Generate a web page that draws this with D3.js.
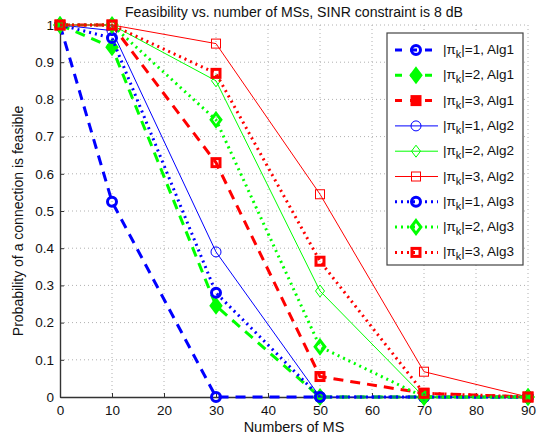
<!DOCTYPE html>
<html>
<head>
<meta charset="utf-8">
<script src="https://cdn.jsdelivr.net/npm/d3@7"></script>
<style>
  body { margin: 0; background: #fff; }
  text { font-family: "Liberation Sans", Arial, sans-serif; }
</style>
</head>
<body>
<svg id="chart" width="545" height="436"></svg>
<script>
// x values (number of MS)
const msCount = [0, 10, 30, 50, 70, 90];

// feasibility values
const pi1Alg1 = [1, 0.525, 0, 0, 0, 0];
const pi2Alg1 = [1, 0.94, 0.245, 0, 0, 0];
const pi3Alg1 = [1, 1, 0.63, 0.055, 0.01, 0];
const pi1Alg2 = [1, 0.985, 0.39, 0, 0, 0];
const pi2Alg2 = [1, 1, 0.85, 0.285, 0, 0];
const pi3Alg2 = [1, 1, 0.95, 0.545, 0.068, 0];
const pi1Alg3 = [1, 0.965, 0.28, 0, 0, 0];
const pi2Alg3 = [1, 1, 0.745, 0.135, 0, 0];
const pi3Alg3 = [1, 1, 0.87, 0.365, 0.01, 0];

const xTicks = [0, 10, 20, 30, 40, 50, 60, 70, 80, 90];
const yTicks = [0, 0.1, 0.2, 0.3, 0.4, 0.5, 0.6, 0.7, 0.8, 0.9, 1];

const series = [
    {k: 1, alg: "Alg1", values: pi1Alg1, color: "#0000ff", style: "dash", marker: "circle"},
    {k: 2, alg: "Alg1", values: pi2Alg1, color: "#00ff00", style: "dash", marker: "diamond"},
    {k: 3, alg: "Alg1", values: pi3Alg1, color: "#ff0000", style: "dash", marker: "square"},
    {k: 1, alg: "Alg2", values: pi1Alg2, color: "#0000ff", style: "solid", marker: "circle"},
    {k: 2, alg: "Alg2", values: pi2Alg2, color: "#00ff00", style: "solid", marker: "diamond"},
    {k: 3, alg: "Alg2", values: pi3Alg2, color: "#ff0000", style: "solid", marker: "square"},
    {k: 1, alg: "Alg3", values: pi1Alg3, color: "#0000ff", style: "dot", marker: "circle"},
    {k: 2, alg: "Alg3", values: pi2Alg3, color: "#00ff00", style: "dot", marker: "diamond"},
    {k: 3, alg: "Alg3", values: pi3Alg3, color: "#ff0000", style: "dot", marker: "square"}
];

const svg = d3.select("#chart");
const pLeft = 60, pRight = 528, pTop = 25, pBottom = 397;

const x = d3.scaleLinear().domain([0, 90]).range([pLeft, pRight]);
const y = d3.scaleLinear().domain([0, 1]).range([pBottom, pTop]);

// grid
svg.append("g").selectAll("line")
    .data(xTicks.slice(1))
    .join("line")
    .attr("x1", d => x(d)).attr("x2", d => x(d))
    .attr("y1", pTop).attr("y2", pBottom)
    .style("stroke", "#b0b0b0").style("stroke-width", 1)
    .style("stroke-dasharray", "1,3");
svg.append("g").selectAll("line")
    .data(yTicks.slice(1))
    .join("line")
    .attr("x1", pLeft).attr("x2", pRight)
    .attr("y1", d => y(d)).attr("y2", d => y(d))
    .style("stroke", "#b0b0b0").style("stroke-width", 1)
    .style("stroke-dasharray", "1,3");

// axes
let xAxis = svg.append("g")
    .attr("transform", `translate(0,${pBottom})`)
    .call(d3.axisBottom(x).tickValues(xTicks).tickSizeInner(-4).tickSizeOuter(0).tickPadding(8));
let yAxis = svg.append("g")
    .attr("transform", `translate(${pLeft},0)`)
    .call(d3.axisLeft(y).tickValues(yTicks).tickFormat(d => d3.format("~g")(d)).tickSizeInner(-4).tickSizeOuter(0).tickPadding(6));
[xAxis, yAxis].forEach(a => {
    a.select(".domain").style("stroke", "#333").style("stroke-width", 1.4);
    a.selectAll(".tick line").style("stroke", "#333");
    a.selectAll("text").style("font-size", "13.5px").style("fill", "#111")
        .style("font-family", "'Liberation Sans', Arial, sans-serif");
});

// labels
svg.append("text")
    .attr("x", 294).attr("y", 17)
    .attr("text-anchor", "middle")
    .attr("textLength", 338).attr("lengthAdjust", "spacingAndGlyphs")
    .style("font-size", "14px").style("fill", "#111")
    .text("Feasibility vs. number of MSs, SINR constraint is 8 dB");
svg.append("text")
    .attr("x", 294).attr("y", 432)
    .attr("text-anchor", "middle")
    .style("font-size", "14.5px").style("fill", "#111")
    .text("Numbers of MS");
svg.append("text")
    .attr("transform", `translate(23,${(pTop + pBottom) / 2 + 10}) rotate(-90)`)
    .attr("text-anchor", "middle")
    .style("font-size", "14px").style("fill", "#111")
    .text("Probability of a connection is feasible");

function lineWidth(s) {
    return s.style == "solid" ? 1 : 3;
}
function dashes(s) {
    if (s.style == "dash") return "10,7";
    if (s.style == "dot") return "2,4";
    return null;
}

function drawMarker(g, s, cx, cy, inLegend) {
    let thin = s.style == "solid";
    let fill = (inLegend && s.style == "dash") ? s.color : "none";
    let sw = thin ? 1 : 3;
    let m;
    if (s.marker == "circle") {
        m = g.append("circle").attr("cx", cx).attr("cy", cy)
            .attr("r", thin ? 5 : 4.5);
        fill = "none";
    } else if (s.marker == "diamond") {
        let r = thin ? 6 : 6.5;
        if (s.style == "dash") fill = s.color;
        m = g.append("path")
            .attr("d", `M${cx},${cy - r}L${cx + r * 0.75},${cy}L${cx},${cy + r}L${cx - r * 0.75},${cy}Z`);
    } else {
        let h = thin ? 4.5 : 4;
        m = g.append("rect").attr("x", cx - h).attr("y", cy - h)
            .attr("width", 2 * h).attr("height", 2 * h);
    }
    m.style("fill", fill).style("stroke", s.color).style("stroke-width", sw);
}

const line = d3.line().x(d => x(d[0])).y(d => y(d[1]));

series.forEach(s => {
    let g = svg.append("g");
    let pts = msCount.map((m, i) => [m, s.values[i]]);
    g.append("path")
        .attr("d", line(pts))
        .style("fill", "none")
        .style("stroke", s.color)
        .style("stroke-width", lineWidth(s))
        .style("stroke-dasharray", dashes(s));
    pts.forEach(p => drawMarker(g, s, x(p[0]), y(p[1]), false));
});

// legend
const lg = svg.append("g");
lg.append("rect")
    .attr("x", 387).attr("y", 33).attr("width", 136).attr("height", 232)
    .style("fill", "#fff").style("stroke", "#444").style("stroke-width", 1.2);
series.forEach((s, i) => {
    let ly = 50 + i * 25.3;
    lg.append("line")
        .attr("x1", 395).attr("x2", 438).attr("y1", ly).attr("y2", ly)
        .style("stroke", s.color)
        .style("stroke-width", lineWidth(s))
        .style("stroke-dasharray", s.style == "dash" ? "7,8" : (s.style == "dot" ? "2,4" : null));
    drawMarker(lg, s, 416, ly, true);
    let t = lg.append("text")
        .attr("x", 443).attr("y", ly + 4)
        .style("font-size", "13.5px").style("fill", "#111");
    t.append("tspan").text("|\u03c0");
    t.append("tspan").attr("dy", 4).style("font-size", "11px").text("k");
    t.append("tspan").attr("dy", -4).text(`|=${s.k}, ${s.alg}`);
});
</script>
</body>
</html>
